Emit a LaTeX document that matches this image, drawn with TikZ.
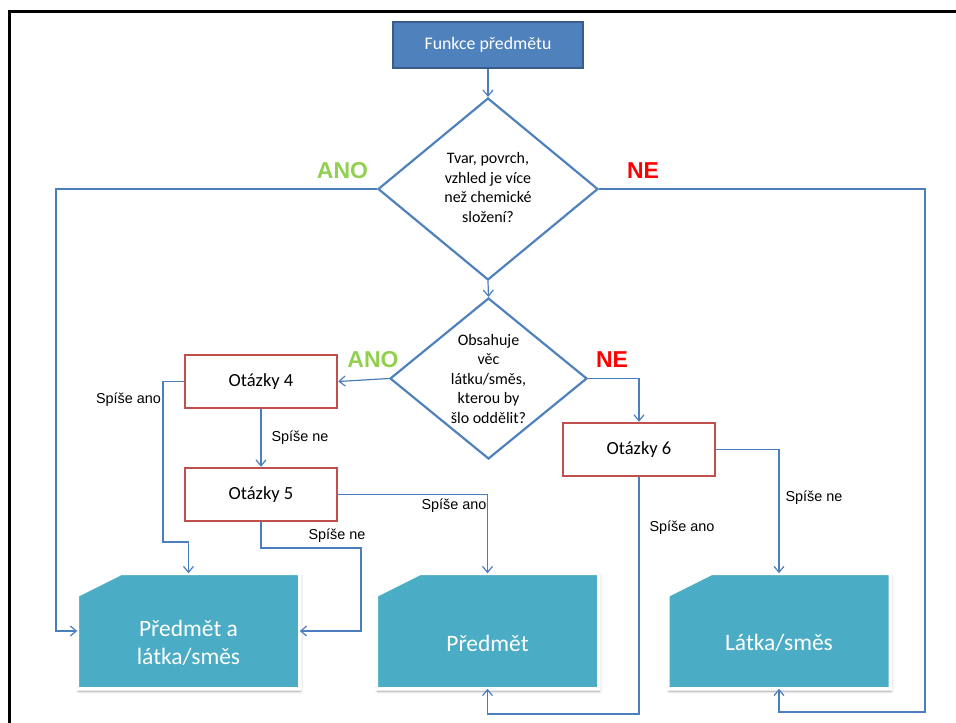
\documentclass[tikz,border=0pt]{standalone}
\usepackage{fontspec}
\setmainfont{Carlito}
\newfontfamily\labelfont{Liberation Sans}
\usetikzlibrary{shapes.geometric,arrows.meta,backgrounds,shadows.blur}

\definecolor{flowblue}{HTML}{4F81BD}
\definecolor{flowblueedge}{HTML}{385D8A}
\definecolor{linkblue}{HTML}{4A7EBF}
\definecolor{qred}{HTML}{C0504D}
\definecolor{resultcyan}{HTML}{4BACC6}
\definecolor{yesgreen}{HTML}{92D050}
\definecolor{nored}{HTML}{FF0000}

\tikzset{
  startbox/.style={rectangle, fill=flowblue, draw=flowblueedge, line width=1.5pt,
    minimum width=190pt, minimum height=46pt, inner sep=0pt, text=white,
    font=\fontsize{17.8}{20}\selectfont},
  decision/.style={diamond, draw=flowblue, line width=2.2pt, inner sep=-30pt,
    align=center, font=\fontsize{16}{19.5}\selectfont},
  question/.style={rectangle, draw=qred, fill=white, line width=2.5pt,
    minimum width=152pt, minimum height=53pt, inner sep=0pt,
    font=\fontsize{18.5}{22}\selectfont},
  result/.style={rectangle, minimum width=219pt, minimum height=112pt,
    inner sep=0pt, outer sep=1.75pt},
  resulttext/.style={align=center, text=white, font=\fontsize{23.5}{28}\selectfont},
  resultshape/.style={fill=resultcyan, draw=white, line width=3.5pt,
    blur shadow={shadow xshift=1pt, shadow yshift=-2.5pt, shadow blur steps=6,
      shadow blur radius=2.5pt, shadow opacity=35}},
  link/.style={draw=linkblue, line width=1.2pt, -{Straight Barb[length=6pt,width=10pt]}},
  choice/.style={inner sep=0pt, font=\labelfont\bfseries\fontsize{23}{26}\selectfont},
  hint/.style={inner sep=0pt, font=\labelfont\fontsize{14.4}{17}\selectfont},
}

\begin{document}
\begin{tikzpicture}[x=1pt, y=-1pt]
\useasboundingbox (0,0) rectangle (956,723);

% slide frame
\draw[line width=3pt] (9.5,730) -- (9.5,11.5) -- (960,11.5);

% start and decisions
\node[startbox] (F) at (488,45) {Funkce předmětu};
\node[decision, minimum width=220pt, minimum height=182pt] (D1) at (488,189)
  {\raisebox{-3pt}{\begin{tabular}{@{}c@{}}Tvar, povrch,\\vzhled je více\\než chemické\\složení?\end{tabular}}};
\node[decision, minimum width=197pt, minimum height=161pt] (D2) at (488.5,378.5)
  {Obsahuje\\věc\\látku/směs,\\kterou by\\šlo oddělit?};

% question boxes
\node[question] (Q4) at (261,381.5) {Otázky 4};
\node[question] (Q5) at (261,494.5) {Otázky 5};
\node[question] (Q6) at (639,449.5) {Otázky 6};

% result boxes
\node[result] (A) at (188.5,631) {};
\node[result] (B) at (487.5,631) {};
\node[result] (C) at (779,631) {};
\begin{scope}[on background layer]
  \foreach \r in {A,B,C}
    \path[resultshape] (\r.south west) -- ([yshift=-22pt]\r.north west)
      -- ([xshift=44pt]\r.north west) -- (\r.north east) -- (\r.south east) -- cycle;
\end{scope}
\node[resulttext] (At) at (188.5,643) {Předmět a\\látka/směs};
\node[resulttext] (Bt) at (487.5,643) {Předmět};
\node[resulttext] (Ct) at (779,643) {Látka/směs};

% branch labels
\node[choice, text=yesgreen] (yes1) at (342.5,170.5) {ANO};
\node[choice, text=nored] (no1) at (643,170.5) {NE};
\node[choice, text=yesgreen] (yes2) at (373,360) {ANO};
\node[choice, text=nored] (no2) at (612,360) {NE};

\node[hint] (h4a) at (128.5,400) {Spíše ano};
\node[hint] (h4n) at (300,438) {Spíše ne};
\node[hint] (h5a) at (454,506) {Spíše ano};
\node[hint] (h5n) at (337,536) {Spíše ne};
\node[hint] (h6a) at (682,528) {Spíše ano};
\node[hint] (h6n) at (814,498) {Spíše ne};

% connectors
\draw[link] (F) -- (D1);
\draw[link] (D1.west) -- (56,189) -- (56,631) -- (A.west);
\draw[link] (D1.east) -- (925,189) -- (925,712) -- (779,712) -- (C.south);
\draw[link] (D1.south) -- (D2.north);
\draw[link] (D2.west) -- (Q4.east);
\draw[link] (D2.east) -| (Q6.north);
\draw[link] (Q4.west) -- (163,381.5) -- (163,542) -- (188.5,542) -- (A.north);
\draw[link] (Q4.south) -- (Q5.north);
\draw[link] (Q5.east) -| (B.north);
\draw[link] (Q5.south) -- (261,548) -- (361,548) -- (361,631) -- (A.east);
\draw[link] (Q6.east) -| (C.north);
\draw[link] (Q6.south) -- (639,714) -- (487.5,714) -- (B.south);
\end{tikzpicture}
\end{document}
